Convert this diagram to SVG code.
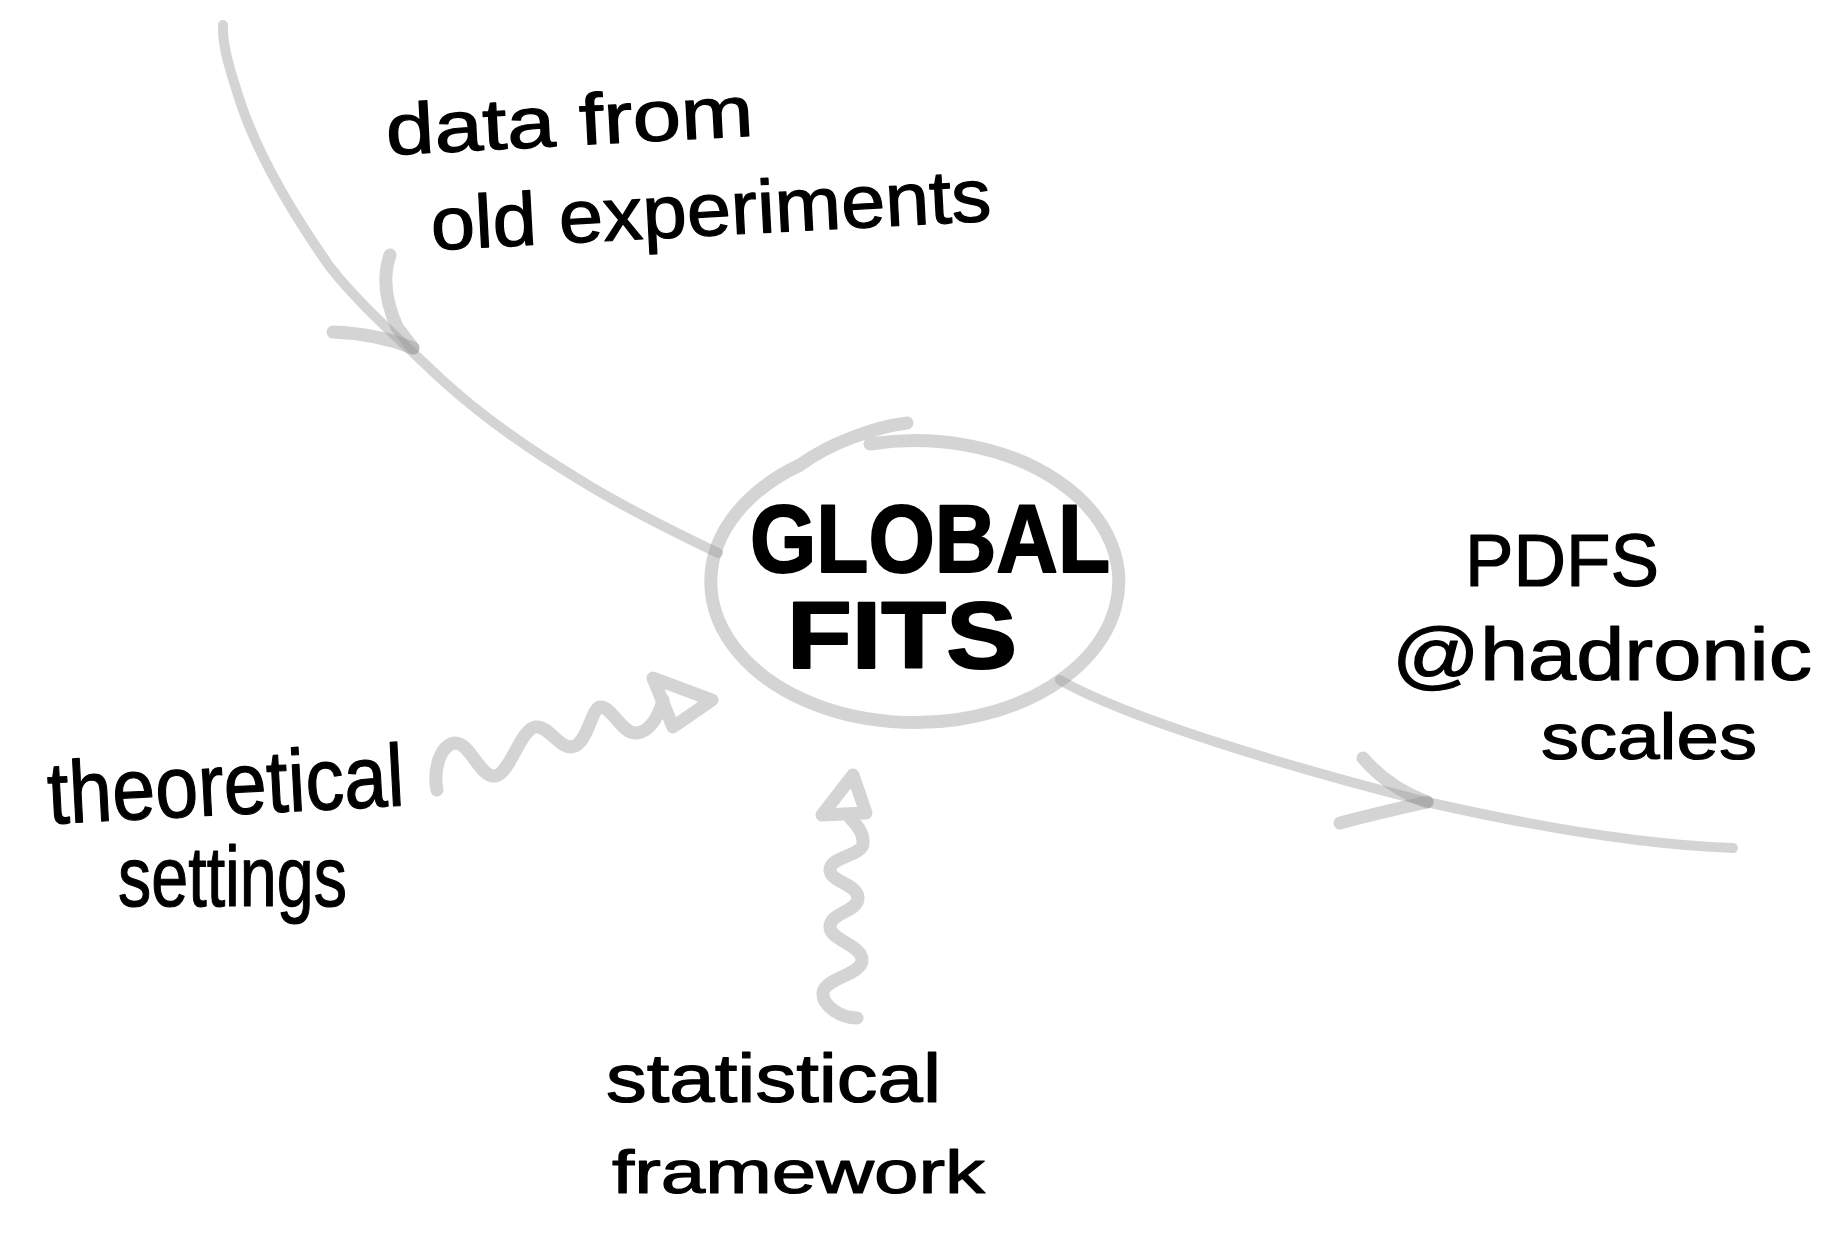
<svg xmlns="http://www.w3.org/2000/svg" width="1845" height="1240" viewBox="0 0 1845 1240">
  <style>
    .conn { fill: none; stroke: #999999; stroke-opacity: 0.42; stroke-linecap: round; stroke-linejoin: round; }
    .line { stroke-width: 10; }
    .head { stroke-width: 13; }
    .wave { fill: none; stroke: #d4d4d4; stroke-width: 13; stroke-linecap: round; stroke-linejoin: round; }
    .ring { fill: none; stroke: #999999; stroke-opacity: 0.42; stroke-width: 13; stroke-linecap: round; }
    .hand { font-family: "Liberation Sans", Arial, sans-serif; fill: #000; stroke: #000; stroke-width: 1.2; stroke-linejoin: round; }
    .caps { font-family: "Liberation Sans", Arial, sans-serif; font-weight: bold; fill: #000; stroke: #000; stroke-width: 2; stroke-linejoin: round; }
  </style>

  <rect width="1845" height="1240" fill="#ffffff"/>

  <!-- connectors -->
  <g id="connectors">
    <!-- old data flowing into the fit -->
    <path class="conn line" d="M223,25 C222,45 230,70 238,95 C255,150 290,210 330,267 C360,305 395,335 440,378 C480,415 530,450 580,480 C620,505 670,530 718,553"/>
    <path class="conn head" d="M390,255 C383,275 385,300 397,327 L413,348"/>
    <path class="conn head" d="M333,332 C360,333 385,337 413,348"/>

    <!-- fit output towards PDFs -->
    <path class="conn line" d="M1060,680 C1130,720 1300,770 1427,802 C1550,830 1650,845 1733,848"/>
    <path class="conn head" d="M1363,758 C1375,772 1395,790 1427,802"/>
    <path class="conn head" d="M1340,823 C1370,815 1400,808 1427,802"/>

    <!-- theory input (wavy) -->
    <path class="wave" d="M437,790 C433,770 440,745 455,743 C470,742 480,778 495,776 C510,774 520,730 535,727 C550,725 560,752 575,746 C588,740 592,708 600,707 C612,706 622,735 637,733 C652,731 660,712 663,700"/>
    <path class="wave" d="M653,678 L712,700 L673,727 Z"/>

    <!-- statistics input (wavy) -->
    <path class="wave" d="M857,1018 C840,1018 822,1005 823,993 C824,978 862,975 862,960 C862,945 830,940 830,927 C830,912 858,912 858,898 C858,884 830,882 830,870 C830,856 863,856 863,843 C864,832 855,823 850,818"/>
    <path class="wave" d="M853,775 L822,815 L866,813 Z"/>
  </g>

  <!-- central node -->
  <g id="node-global-fits">
    <path class="ring" d="M907,423 C875,427 830,443 800,465 A204,141 0 1 0 870,444"/>
    <text class="caps" x="750" y="572" font-size="96" textLength="360" lengthAdjust="spacingAndGlyphs">GLOBAL</text>
    <text class="caps" x="787" y="668" font-size="94" textLength="230" lengthAdjust="spacingAndGlyphs">FITS</text>
  </g>

  <g id="node-old-data">
    <g transform="rotate(-3 387 155)">
      <text class="hand" x="387" y="155" font-size="72" textLength="368" lengthAdjust="spacingAndGlyphs">data from</text>
    </g>
    <g transform="rotate(-3 432 250)">
      <text class="hand" x="432" y="250" font-size="75" textLength="561" lengthAdjust="spacingAndGlyphs">old experiments</text>
    </g>
  </g>

  <g id="node-theory">
    <g transform="rotate(-3 49 824)">
      <text class="hand" x="49" y="824" font-size="88" textLength="357" lengthAdjust="spacingAndGlyphs">theoretical</text>
    </g>
    <text class="hand" x="118" y="906" font-size="85" textLength="229" lengthAdjust="spacingAndGlyphs">settings</text>
  </g>

  <g id="node-statistics">
    <text class="hand" x="606" y="1102" font-size="68" textLength="335" lengthAdjust="spacingAndGlyphs">statistical</text>
    <text class="hand" x="612" y="1193" font-size="62" textLength="373" lengthAdjust="spacingAndGlyphs">framework</text>
  </g>

  <g id="node-pdfs">
    <text class="hand" x="1465" y="586" font-size="75" textLength="194" lengthAdjust="spacingAndGlyphs">PDFS</text>
    <text class="hand" x="1392" y="680" font-size="75" textLength="420" lengthAdjust="spacingAndGlyphs">@hadronic</text>
    <text class="hand" x="1541" y="759" font-size="65" textLength="216" lengthAdjust="spacingAndGlyphs">scales</text>
  </g>
</svg>
